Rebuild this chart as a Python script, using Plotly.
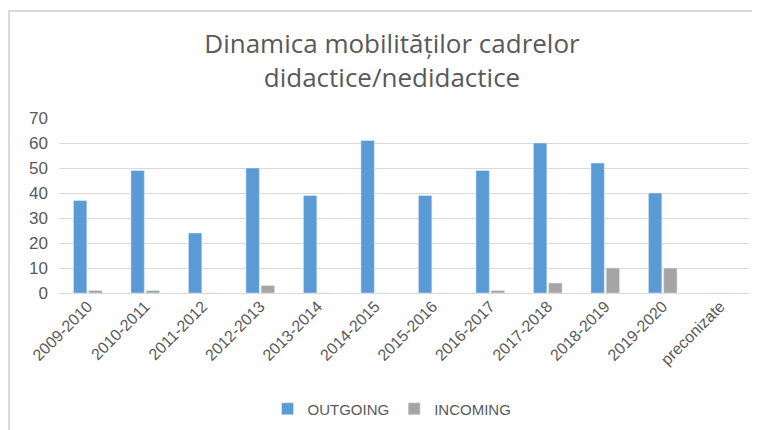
import plotly.graph_objects as go

categories = ["2009-2010", "2010-2011", "2011-2012", "2012-2013", "2013-2014", "2014-2015",
              "2015-2016", "2016-2017", "2017-2018", "2018-2019", "2019-2020", "preconizate"]
outgoing = [37, 49, 24, 50, 39, 61, 39, 49, 60, 52, 40, 0]
incoming = [1, 1, 0, 3, 0, 0, 0, 1, 4, 10, 10, 0]
y_ticks = [0, 10, 20, 30, 40, 50, 60, 70]

FONT = "Liberation Sans Narrow, Liberation Sans, Arial"
GREY = "#595959"

fig = go.Figure()
fig.add_trace(go.Bar(x=categories, y=outgoing, name="OUTGOING", marker_color="#5b9bd5"))
fig.add_trace(go.Bar(x=categories, y=incoming, name="INCOMING", marker_color="#a5a5a5"))

# page body has an 8px margin, so figure coords = page coords - 8
OFF = 8
W, H = 760 - OFF, 430 - OFF
L, R, T, B = 59 - OFF, W - (749 - OFF), 118 - OFF, H - (293 - OFF)
pw, ph = W - L - R, H - T - B

def px_x(x):
    return (x - OFF - L) / pw

def px_y(y):
    return (H - B - (y - OFF)) / ph

fig.add_shape(type="line", xref="paper", yref="paper",
              x0=px_x(9), x1=px_x(9), y0=px_y(11), y1=px_y(440),
              line=dict(color="#d9d9d9", width=2))
fig.add_shape(type="line", xref="paper", yref="paper",
              x0=px_x(8), x1=px_x(759), y0=px_y(11), y1=px_y(11),
              line=dict(color="#d9d9d9", width=2))

fig.update_layout(
    width=W, height=H,
    margin=dict(l=L, r=R, t=T, b=B, autoexpand=False),
    paper_bgcolor="white", plot_bgcolor="white",
    barmode="group", bargap=0.47, bargroupgap=0.12,
    title=dict(text="Dinamica mobilităților cadrelor<br>didactice/nedidactice",
               x=(392 - OFF) / W, xanchor="center", y=1 - (53 - OFF) / H, yanchor="middle",
               font=dict(family="Open Sans, Noto Sans", size=26, color=GREY)),
    font=dict(family=FONT, color=GREY, size=15),
    xaxis=dict(tickangle=-45, showgrid=False, showline=False, ticks="",
               tickfont=dict(size=16, color=GREY), fixedrange=True, automargin=False),
    yaxis=dict(range=[0, 70], tickvals=y_ticks, showgrid=True, gridcolor="#d9d9d9",
               gridwidth=1, zeroline=True, zerolinecolor="#d9d9d9", zerolinewidth=1,
               tickfont=dict(size=17, color=GREY), ticklabelstandoff=10, automargin=False),
    legend=dict(orientation="h", xref="container", x=(392 - OFF) / W, xanchor="center",
                yref="container", y=1 - (409 - OFF) / H, yanchor="middle",
                font=dict(size=15, color=GREY), itemwidth=30),
    showlegend=True,
)

fig.write_html("out.html")
